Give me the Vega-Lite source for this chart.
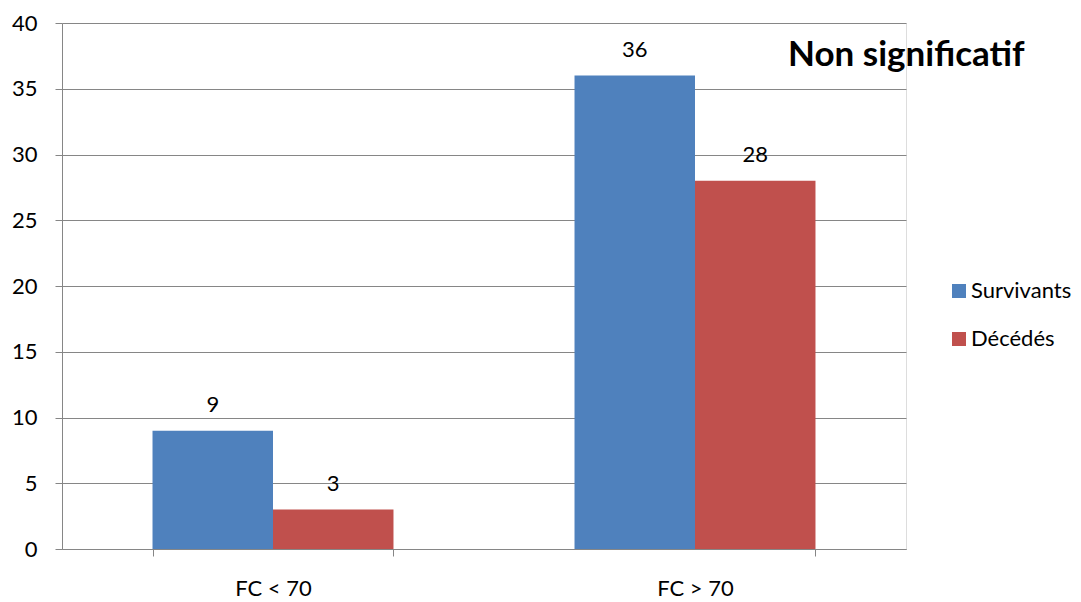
{
  "$schema": "https://vega.github.io/schema/vega-lite/v6.json",
  "width": 844,
  "height": 526,
  "autosize": {"type": "none"},
  "padding": {"left": 62, "top": 23, "right": 175, "bottom": 53},
  "background": "white",
  "data": {
    "values": [
      {"cat": "FC < 70", "serie": "Survivants", "val": 9},
      {"cat": "FC < 70", "serie": "Décédés", "val": 3},
      {"cat": "FC > 70", "serie": "Survivants", "val": 36},
      {"cat": "FC > 70", "serie": "Décédés", "val": 28}
    ]
  },
  "encoding": {
    "x": {
      "field": "cat",
      "type": "nominal",
      "sort": null,
      "scale": {"paddingInner": 0.429, "paddingOuter": 0.2145},
      "axis": {
        "title": null,
        "labelAngle": 0,
        "tickBand": "extent",
        "domainColor": "#868686",
        "tickColor": "#868686",
        "tickSize": 7,
        "labelPadding": 22,
        "labelFontSize": 22,
        "labelFont": "Lato",
        "labelColor": "black",
        "labelBaseline": "top"
      }
    },
    "y": {
      "field": "val",
      "type": "quantitative",
      "scale": {"domain": [0, 40], "nice": false},
      "axis": {
        "title": null,
        "values": [0, 5, 10, 15, 20, 25, 30, 35, 40],
        "gridColor": "#868686",
        "domainColor": "#868686",
        "tickColor": "#868686",
        "tickSize": 7,
        "labelPadding": 18,
        "labelFontSize": 22,
        "labelFont": "Lato",
        "labelColor": "black"
      }
    }
  },
  "layer": [
    {
      "mark": {"type": "bar"},
      "encoding": {
        "xOffset": {
          "field": "serie",
          "sort": ["Survivants", "Décédés"],
          "scale": {"paddingInner": 0, "paddingOuter": 0}
        },
        "color": {
          "field": "serie",
          "type": "nominal",
          "scale": {"domain": ["Survivants", "Décédés"], "range": ["#4F81BD", "#C0504D"]},
          "legend": {
            "title": null,
            "orient": "none",
            "legendX": 886,
            "legendY": 257,
            "padding": 0,
            "symbolType": "square",
            "symbolSize": 196,
            "symbolStrokeWidth": 0,
            "labelOffset": 1,
            "labelFontSize": 22,
            "labelFont": "Lato",
            "labelColor": "black",
            "rowPadding": 26
          }
        }
      }
    },
    {
      "mark": {"type": "text", "dy": -19, "baseline": "alphabetic", "fontSize": 22, "font": "Lato", "color": "black"},
      "encoding": {
        "xOffset": {
          "field": "serie",
          "sort": ["Survivants", "Décédés"],
          "scale": {"paddingInner": 0, "paddingOuter": 0}
        },
        "text": {"field": "val", "type": "quantitative"}
      }
    },
    {
      "data": {"values": [{"cat": "FC > 70", "val": 37.6, "label": "Non significatif"}]},
      "mark": {"type": "text", "align": "left", "baseline": "middle", "dx": 93, "fontSize": 35, "font": "Lato", "fontWeight": "bold", "color": "black"},
      "encoding": {
        "text": {"field": "label", "type": "nominal"}
      }
    }
  ]
}
